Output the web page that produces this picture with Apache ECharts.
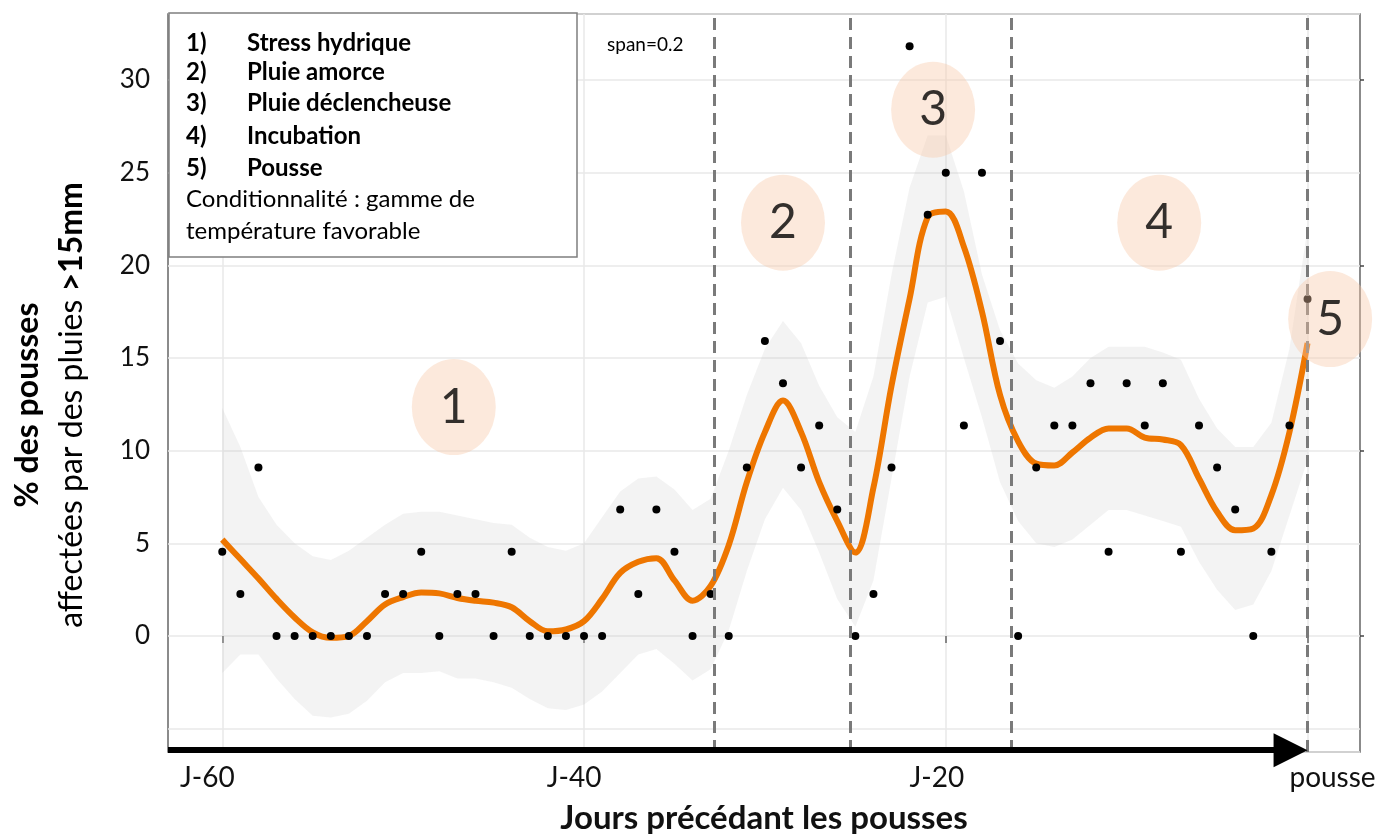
<!DOCTYPE html>
<html>
<head>
<meta charset="utf-8">
<script src="https://cdn.jsdelivr.net/npm/echarts@6/dist/echarts.min.js"></script>
<style>
html,body{margin:0;padding:0;background:#fff;}
#chart{width:1381px;height:834px;}
</style>
</head>
<body>
<div id="chart"></div>
<script>
// ---------- DATA ----------
const days = [-60,-59,-58,-57,-56,-55,-54,-53,-52,-51,-50,-49,-48,-47,-46,-45,-44,-43,-42,-41,-40,-39,-38,-37,-36,-35,-34,-33,-32,-31,-30,-29,-28,-27,-26,-25,-24,-23,-22,-21,-20,-19,-18,-17,-16,-15,-14,-13,-12,-11,-10,-9,-8,-7,-6,-5,-4,-3,-2,-1,0];
const pctPousses = [4.55,2.27,9.09,0,0,0,0,0,0,2.27,2.27,4.55,0,2.27,2.27,0,4.55,0,0,0,0,0,6.82,2.27,6.82,4.55,0,2.27,0,9.09,15.91,13.64,9.09,11.36,6.82,0,2.27,9.09,31.82,22.73,25,11.36,25,15.91,0,9.09,11.36,11.36,13.64,4.55,13.64,11.36,13.64,4.55,11.36,9.09,6.82,0,4.55,11.36,18.18];
const loessFit = [5.2,4.15,3.1,2.0,1.0,0.2,-0.1,0.0,0.8,1.7,2.1,2.35,2.3,2.05,1.9,1.8,1.55,0.8,0.25,0.35,0.8,2.0,3.4,4.0,4.2,3.0,1.9,2.7,4.9,8.3,11.0,12.7,11.0,8.3,6.2,4.5,8.0,13.5,18.2,22.6,22.9,21.0,17.5,13.0,10.5,9.3,9.2,9.9,10.7,11.2,11.2,10.7,10.6,10.3,8.5,6.7,5.7,5.8,7.6,11.0,15.8];
const bandUpper = [12.3,10.2,7.5,6.0,5.0,4.3,4.1,4.6,5.3,6.0,6.6,6.7,6.7,6.5,6.3,6.1,6.0,5.3,4.8,4.6,5.0,6.4,7.8,8.5,8.6,7.9,6.8,7.4,10.0,13.0,15.5,17.0,15.8,13.5,11.8,11.0,14.0,19.5,24.2,27.0,27.0,24.0,19.5,16.5,14.7,13.8,13.4,14.0,15.0,15.6,15.6,15.6,15.3,14.9,12.8,11.2,10.2,10.2,11.5,15.5,22.0];
const bandLower = [-2.0,-1.0,-1.0,-2.3,-3.4,-4.3,-4.4,-4.2,-3.5,-2.5,-2.0,-2.0,-1.9,-2.3,-2.3,-2.5,-2.8,-3.4,-3.9,-4.0,-3.7,-3.0,-2.0,-1.0,-0.7,-1.5,-2.4,-1.8,0.3,3.5,6.3,8.0,6.8,4.5,2.0,0.5,3.0,8.5,14.0,18.0,18.3,15.0,11.8,8.3,6.2,5.0,4.8,5.2,6.0,6.8,6.8,6.5,6.2,5.9,4.0,2.5,1.4,1.7,3.5,6.5,9.5];
const phaseBreaks = [-32.8,-25.3,-16.4,0];
const phaseNumbers = ['1','2','3','4','5'];
const phaseX = [-47.2,-29.0,-20.7,-8.2,1.25];
const phaseY = [12.35,22.3,28.4,22.3,17.1];
const phaseNames = ['Stress hydrique','Pluie amorce','Pluie déclencheuse','Incubation','Pousse'];
const noteLines = ['Conditionnalité : gamme de','température favorable'];
const xTickValues = [-60,-40,-20,0];
const xTickLabels = ['J-60','J-40','J-20','pousse'];
const yTickValues = [0,5,10,15,20,25,30];
const spanNote = 'span=0.2';
const xTitle = 'Jours précédant les pousses';

// ---------- CHART ----------
const FONT = 'Lato, "Open Sans", sans-serif';
const X_MIN = -63, X_MAX = 2.9, Y_MIN = -6.26, Y_MAX = 33.56;
const ARROW_END = -0.94; // arrow tip lands on day 0

const pts = days.map((d,i)=>[d,pctPousses[i]]);
const fit = days.map((d,i)=>[d,loessFit[i]]);
const circles = phaseNumbers.map((n,i)=>({value:[phaseX[i],phaseY[i]], name:n}));

const graphic = [
  {type:'rect', x:169, y:13, shape:{width:408,height:244}, style:{fill:'#fff', stroke:'#7f7f7f', lineWidth:1.5}, z:100}
];
const rowY = [43,72,103,136,168];
phaseNames.forEach((t,i)=>{
  graphic.push({type:'text', x:186, y:rowY[i], z:101, style:{text:(i+1)+')', font:'bold 24px '+FONT, fill:'#000', verticalAlign:'middle'}});
  graphic.push({type:'text', x:247, y:rowY[i], z:101, style:{text:t, font:'bold 24px '+FONT, fill:'#000', verticalAlign:'middle'}});
});
noteLines.forEach((t,i)=>{
  graphic.push({type:'text', x:186, y:199+i*32, z:101, style:{text:t, font:'24px '+FONT, fill:'#000', verticalAlign:'middle'}});
});
graphic.push({type:'text', x:607, y:45, z:101, style:{text:spanNote, font:'19px '+FONT, fill:'#000', verticalAlign:'middle'}});

function renderBand(params, api){
  const up = days.map((d,i)=>api.coord([d,bandUpper[i]]));
  const lo = days.map((d,i)=>api.coord([d,bandLower[i]])).reverse();
  return {type:'polygon', shape:{points:up.concat(lo)}, style:{fill:'rgba(200,200,200,0.22)'}, silent:true};
}

const labStyle = {fontFamily:FONT, fontSize:28, color:'#111'};
const chart = echarts.init(document.getElementById('chart'));
chart.setOption({
  backgroundColor:'#fff',
  animation:false,
  graphic: graphic,
  grid:{left:168, right:21, top:14, bottom:82, show:true, borderColor:'#666', borderWidth:1.5, backgroundColor:'transparent', containLabel:false, outerBoundsMode:'none'},
  xAxis:{
    type:'value', min:X_MIN, max:X_MAX, splitNumber:7,
    axisLine:{show:false},
    axisTick:{show:true, customValues:xTickValues, length:7, lineStyle:{color:'#666', width:1.5}},
    axisLabel:{customValues:xTickValues, formatter:v=>{const k=xTickValues.indexOf(Math.round(v)); return k>=0?('{l'+k+'|'+xTickLabels[k]+'}'):'';}, margin:12,
      rich:{
        l0:Object.assign({padding:[0,30,0,0]},labStyle),
        l1:Object.assign({padding:[0,20,0,0]},labStyle),
        l2:Object.assign({padding:[0,18,0,0]},labStyle),
        l3:Object.assign({padding:[0,0,0,50]},labStyle)
      }},
    splitLine:{show:true, lineStyle:{color:'#e8e8e8', width:1.5}},
    name:xTitle, nameLocation:'middle', nameGap:50,
    nameTextStyle:{fontFamily:FONT, fontWeight:'bold', fontSize:33, color:'#111'}
  },
  yAxis:[{
    type:'value', min:Y_MIN, max:Y_MAX, splitNumber:8, minInterval:5, maxInterval:5,
    axisLine:{show:false}, axisTick:{show:false},
    axisLabel:{customValues:yTickValues, fontFamily:FONT, fontSize:26, color:'#111', margin:18},
    splitLine:{show:true, lineStyle:{color:'#e8e8e8', width:1.5}},
    name:'{b|% des pousses}\n{r|affectées par des pluies }{b|>15mm}',
    nameLocation:'middle', nameRotate:90, nameGap:74,
    nameTextStyle:{padding:[0,44,0,0], rich:{
      b:{fontFamily:FONT, fontWeight:'bold', fontSize:32, color:'#000', lineHeight:44},
      r:{fontFamily:FONT, fontSize:32, color:'#000', lineHeight:44}
    }}
  },{
    type:'value', min:Y_MIN, max:Y_MAX, position:'right',
    axisLine:{show:false}, axisLabel:{show:false}, splitLine:{show:false},
    axisTick:{show:true, customValues:[0,10,20,30], length:4, lineStyle:{color:'#444', width:1.5}}
  }],
  series:[
    {type:'custom', data:[0], renderItem:renderBand, silent:true, z:1},
    {type:'line', data:fit, symbol:'none', smooth:0.35, lineStyle:{color:'#EE7600', width:6}, z:3,
      markLine:{silent:true, symbol:'none', label:{show:false}, lineStyle:{color:'#7a7a7a', width:3, type:[12,7]},
        data:phaseBreaks.map(v=>({xAxis:v}))}},
    {type:'scatter', data:pts, symbolSize:8, itemStyle:{color:'#000', opacity:1}, z:4},
    {type:'line', data:[], symbol:'none', z:6,
      markLine:{silent:true, symbol:['none','triangle'], symbolSize:34, label:{show:false},
        lineStyle:{color:'#000', width:6, type:'solid'}, itemStyle:{color:'#000'},
        data:[[{coord:[X_MIN,Y_MIN+0.1]},{coord:[ARROW_END,Y_MIN+0.1]}]]}},
    {type:'scatter', data:circles, symbol:'circle', symbolSize:[84,96], clip:false, z:8,
      itemStyle:{color:'rgba(248,200,168,0.5)'},
      label:{show:true, position:'inside', formatter:p=>p.name, fontFamily:FONT, fontSize:48, color:'#000'}}
  ]
});
</script>
</body>
</html>
